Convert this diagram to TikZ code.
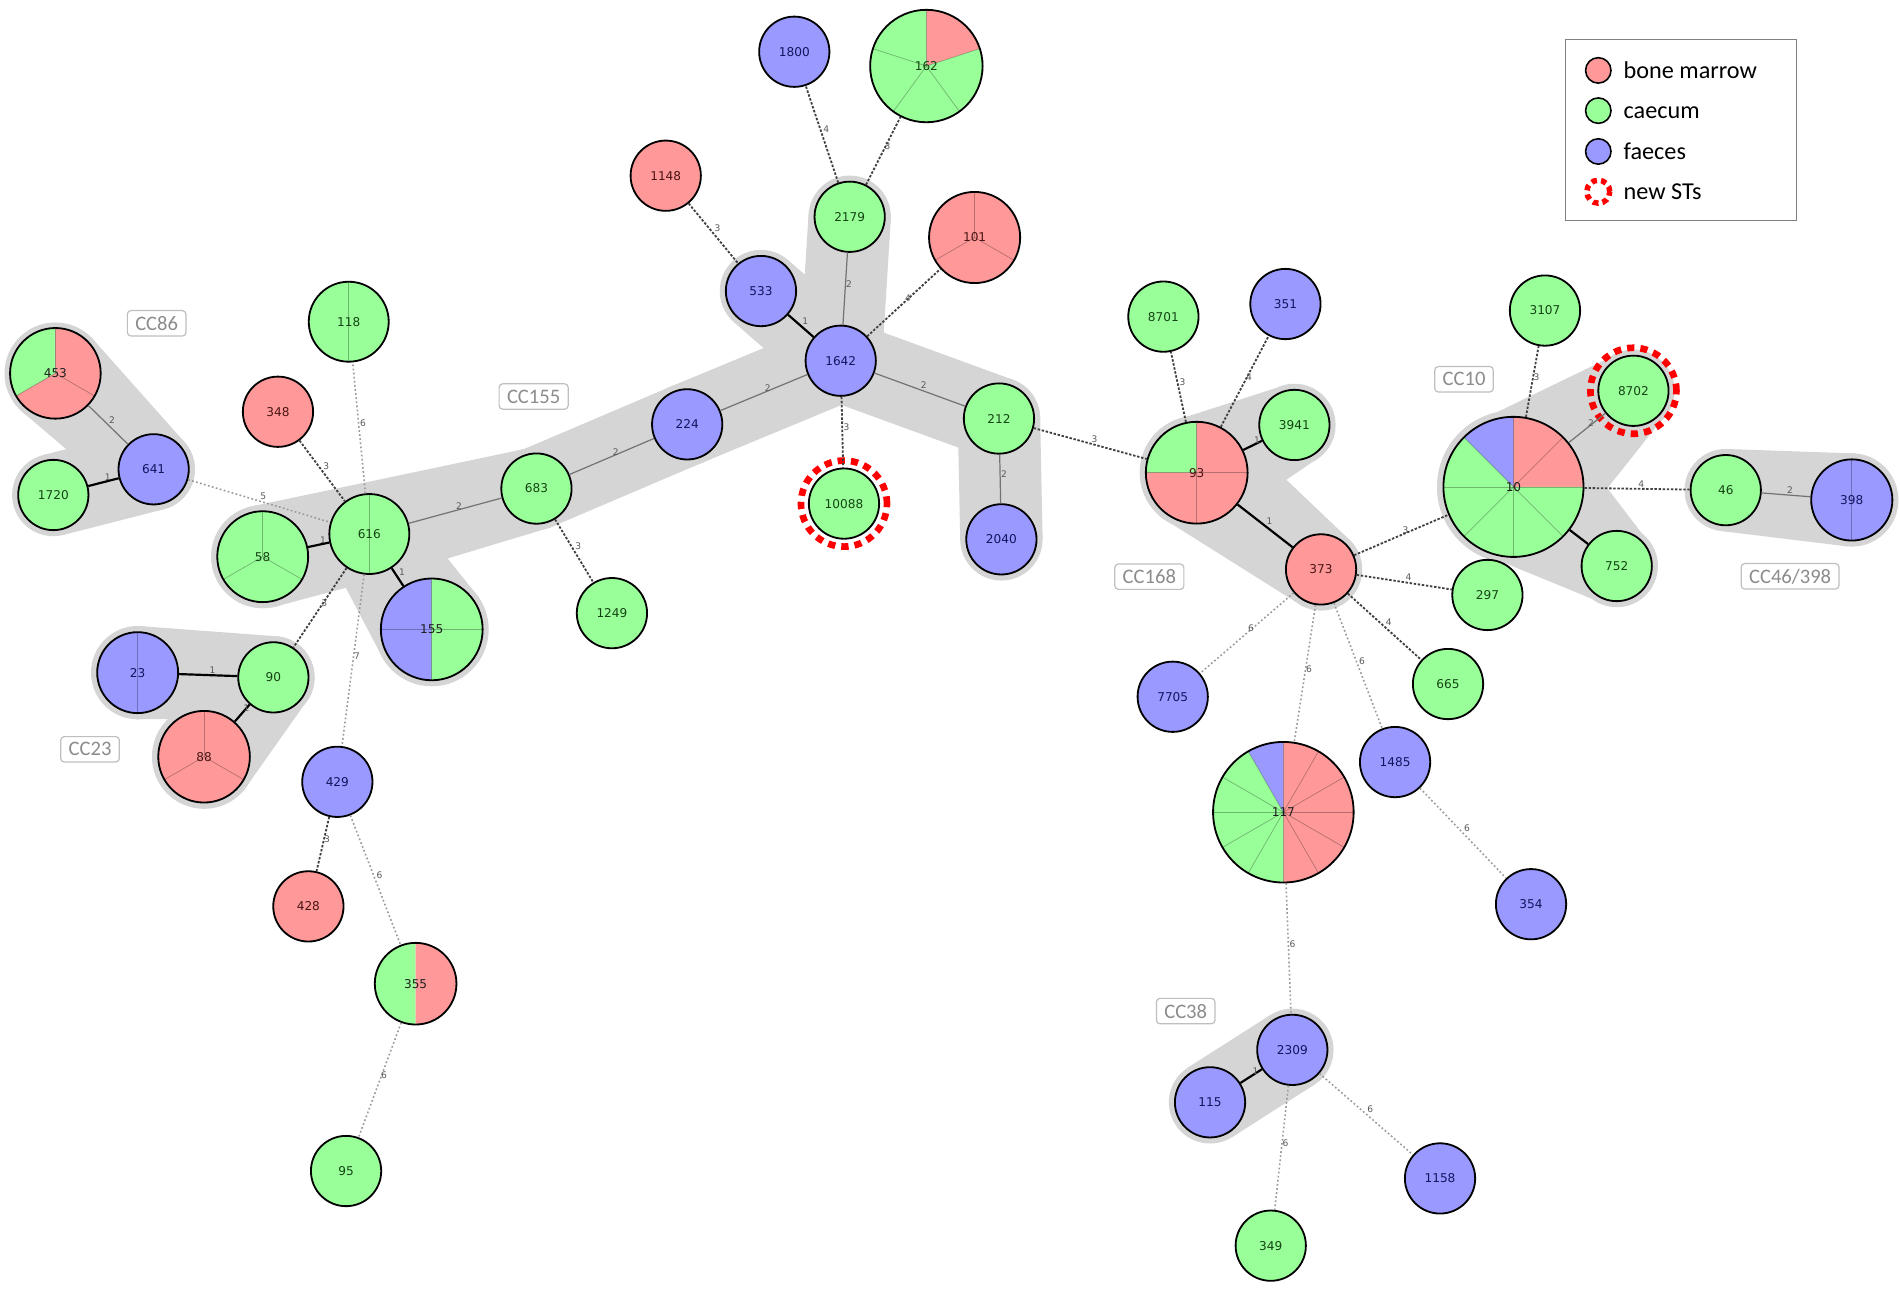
\documentclass[tikz,border=0pt]{standalone}
\usepackage{fontspec}
\newfontfamily\dv{DejaVu Sans}
\newfontfamily\cb{Carlito}
\usetikzlibrary{calc}
\pgfdeclarelayer{bg}
\pgfsetlayers{bg,main}
\definecolor{bm}{HTML}{FF9999}
\definecolor{cae}{HTML}{99FF99}
\definecolor{fae}{HTML}{9999FF}
\definecolor{tbm}{HTML}{4A1414}
\definecolor{tcae}{HTML}{144414}
\definecolor{tfae}{HTML}{141460}
\definecolor{tmix}{HTML}{1E1E1E}
\definecolor{hullgray}{HTML}{D5D5D5}
\definecolor{ccgray}{HTML}{8C8C8C}
\newcommand\band[4]{%
  \fill[hull] ($(#1.center)!#2!90:(#3.center)$) -- ($(#3.center)!#4!-90:(#1.center)$) -- ($(#3.center)!#4!90:(#1.center)$) -- ($(#1.center)!#2!-90:(#3.center)$) -- cycle;
  \fill[hull] (#1.center) circle[radius=#2];
  \fill[hull] (#3.center) circle[radius=#4];}
\newcommand\pieslices[4]{\foreach \sa/\sb/\sc in {#4}{\fill[fill=\sc] (#1,#2) -- +(\sa:#3) arc[start angle=\sa, end angle=\sb, radius=#3] -- cycle;}}
\newcommand\pielines[4]{\foreach \sa in {#4}{\draw[divline] (#1,#2) -- +(\sa:#3);}}
\newcommand\stn[5]{\node[st, fill=#4, text=t#4, minimum size=#5] (n#1) at (#2,#3) {#1};}
\newcommand\pnode[5]{\node[st, text=#4, minimum size=#5] (n#1) at (#2,#3) {#1};}
\begin{document}
\begin{tikzpicture}[x=1pt,y=-1pt,
  st/.style={circle, draw=black, line width=1.5pt, inner sep=0pt, font=\dv\fontsize{10}{11}\selectfont},
  divline/.style={draw=black, opacity=0.28, line width=0.6pt},
  hull/.style={fill=hullgray},
  e1/.style={draw=black, line width=1.8pt},
  e2/.style={draw=black!55, line width=1pt},
  e3/.style={draw=black!75, line width=1.5pt, dash pattern=on 2pt off 1.4pt},
  e5/.style={draw=black!40, line width=1.3pt, dash pattern=on 1.4pt off 2pt},
  el/.style={midway, anchor=south west, inner sep=0.3pt, font=\dv\fontsize{7.5}{8}\selectfont, text=black!65},
  newst/.style={draw=red, line width=5.5pt, dash pattern=on 6pt off 5pt},
  cc/.style={draw=black!25, line width=1pt, rounded corners=3pt, text=ccgray, font=\cb\fontsize{17}{17}\selectfont, inner xsep=6.5pt, inner ysep=0pt, minimum height=21pt},
  leg/.style={anchor=base west, inner sep=0pt, font=\cb\fontsize{20}{20}\selectfont}
]
\useasboundingbox (0,0) rectangle (1568,1070);
\begin{pgfonlayer}{bg}
\fill[white] (0,0) rectangle (1568,1070);
\end{pgfonlayer}

% ---------- pie slices ----------
\pieslices{45.7}{308.1}{37.4pt}{90/210/cae,210/450/bm}
\pielines{45.7}{308.1}{37.4pt}{90,210,330}
\pieslices{216.8}{459.4}{37.5pt}{0/360/cae}
\pielines{216.8}{459.4}{37.5pt}{90,210,330}
\pieslices{168.4}{624.5}{37.8pt}{0/360/bm}
\pielines{168.4}{624.5}{37.8pt}{90,210,330}
\pieslices{804.3}{196}{37.6pt}{0/360/bm}
\pielines{804.3}{196}{37.6pt}{90,210,330}
\pieslices{764.5}{54.5}{46.4pt}{18/90/bm,90/378/cae}
\pielines{764.5}{54.5}{46.4pt}{18,90,162,234,306}
\pieslices{287.8}{265.5}{33pt}{0/360/cae}
\pielines{287.8}{265.5}{33pt}{90,270}
\pieslices{304.8}{440.7}{33pt}{0/360/cae}
\pielines{304.8}{440.7}{33pt}{90,270}
\pieslices{356.3}{519.4}{42pt}{90/270/fae,270/450/cae}
\pielines{356.3}{519.4}{42pt}{0,90,180,270}
\pieslices{113.6}{555.1}{33.4pt}{0/360/fae}
\pielines{113.6}{555.1}{33.4pt}{90,270}
\pieslices{343}{811.8}{33.7pt}{90/270/cae,270/450/bm}
\pieslices{1528.2}{412.6}{33.5pt}{0/360/fae}
\pielines{1528.2}{412.6}{33.5pt}{90,270}
\pieslices{987.6}{390.1}{42pt}{90/180/cae,180/450/bm}
\pielines{987.6}{390.1}{42pt}{0,90,180,270}
\pieslices{1249}{401.8}{57.8pt}{0/90/bm,90/135/fae,135/360/cae}
\pielines{1249}{401.8}{57.8pt}{0,45,...,315}
\pieslices{1059.1}{670.3}{58pt}{-90/90/bm,90/120/fae,120/270/cae}
\pielines{1059.1}{670.3}{58pt}{0,30,...,330}

% ---------- nodes ----------
\pnode{453}{45.7}{308.1}{tmix}{74.8pt}
\pnode{58}{216.8}{459.4}{tcae}{75pt}
\pnode{88}{168.4}{624.5}{tbm}{75.6pt}
\pnode{101}{804.3}{196}{tbm}{75.2pt}
\pnode{162}{764.5}{54.5}{tcae}{92.8pt}
\pnode{118}{287.8}{265.5}{tcae}{66pt}
\pnode{616}{304.8}{440.7}{tcae}{66pt}
\pnode{155}{356.3}{519.4}{tmix}{84pt}
\pnode{23}{113.6}{555.1}{tfae}{66.8pt}
\pnode{355}{343}{811.8}{tmix}{67.4pt}
\pnode{398}{1528.2}{412.6}{tfae}{67pt}
\pnode{93}{987.6}{390.1}{tbm}{84pt}
\pnode{10}{1249}{401.8}{tmix}{115.6pt}
\pnode{117}{1059.1}{670.3}{tmix}{116pt}

\stn{1800}{655.5}{42.7}{fae}{58pt}
\stn{1148}{549.4}{145}{bm}{58pt}
\stn{2179}{701.2}{178.9}{cae}{58pt}
\stn{533}{628}{240.2}{fae}{58pt}
\stn{1642}{693.8}{297.7}{fae}{58pt}
\stn{224}{567.1}{350.2}{fae}{58pt}
\stn{683}{442.7}{403.2}{cae}{58pt}
\stn{212}{824.4}{345.4}{cae}{58pt}
\stn{10088}{696.5}{415.6}{cae}{58pt}
\stn{2040}{826.4}{445.1}{fae}{58pt}
\stn{1249}{505}{506}{cae}{58pt}
\stn{348}{229.4}{339.8}{bm}{58pt}
\stn{641}{126.8}{387.3}{fae}{58pt}
\stn{1720}{44}{408.5}{cae}{58pt}
\stn{90}{225.6}{559}{cae}{58pt}
\stn{429}{278.4}{645.2}{fae}{58pt}
\stn{428}{254.5}{748}{bm}{58pt}
\stn{95}{285.6}{966.4}{cae}{58pt}
\stn{8701}{960.1}{261.3}{cae}{58pt}
\stn{351}{1060.8}{250.9}{fae}{58pt}
\stn{3941}{1068.2}{350.7}{cae}{58pt}
\stn{373}{1090.2}{469.9}{bm}{58pt}
\stn{3107}{1275}{256.3}{cae}{58pt}
\stn{8702}{1348}{322.5}{cae}{58pt}
\stn{46}{1424.2}{404.5}{cae}{58pt}
\stn{752}{1334.2}{467.1}{cae}{58pt}
\stn{297}{1227.5}{491}{cae}{58pt}
\stn{665}{1195}{564.5}{cae}{58pt}
\stn{7705}{967.8}{575}{fae}{58pt}
\stn{1485}{1151.3}{628.9}{fae}{58pt}
\stn{354}{1263.5}{746.2}{fae}{58pt}
\stn{2309}{1066.5}{866.4}{fae}{58pt}
\stn{115}{998.6}{909.7}{fae}{58pt}
\stn{1158}{1188.4}{972.5}{fae}{58pt}
\stn{349}{1048.7}{1028}{cae}{58pt}

\draw[newst] (n10088.center) circle[radius=35.5pt];
\draw[newst] (n8702.center) circle[radius=35.5pt];

% ---------- clonal complex hulls ----------
\begin{pgfonlayer}{bg}
\band{n453}{42pt}{n641}{34pt}
\band{n641}{34pt}{n1720}{34pt}
\band{n23}{38.5pt}{n90}{34pt}
\band{n90}{34pt}{n88}{43pt}
\band{n58}{42.5pt}{n616}{38pt}
\band{n616}{38pt}{n155}{47pt}
\band{n616}{38pt}{n683}{34pt}
\band{n58}{42.5pt}{n683}{34pt}
\band{n683}{34pt}{n224}{34pt}
\band{n224}{34pt}{n1642}{34pt}
\band{n1642}{34pt}{n533}{34pt}
\band{n1642}{34pt}{n2179}{34pt}
\band{n1642}{34pt}{n212}{34pt}
\band{n212}{34pt}{n2040}{34pt}
\band{n93}{47pt}{n3941}{34pt}
\band{n93}{47pt}{n373}{34pt}
\band{n10}{63pt}{n8702}{34pt}
\band{n10}{63pt}{n752}{34pt}
\band{n46}{34pt}{n398}{38.5pt}
\band{n2309}{34pt}{n115}{34pt}
\end{pgfonlayer}

% ---------- edges ----------
\draw[e1] (n533) -- node[el]{1} (n1642);
\draw[e1] (n1720) -- node[el]{1} (n641);
\draw[e1] (n58) -- node[el]{1} (n616);
\draw[e1] (n616) -- node[el]{1} (n155);
\draw[e1] (n23) -- node[el]{1} (n90);
\draw[e1] (n90) -- node[el]{1} (n88);
\draw[e1] (n93) -- node[el]{1} (n3941);
\draw[e1] (n93) -- node[el]{1} (n373);
\draw[e1] (n10) -- (n752);
\draw[e1] (n2309) -- node[el]{1} (n115);

\draw[e2] (n453) -- node[el]{2} (n641);
\draw[e2] (n616) -- node[el]{2} (n683);
\draw[e2] (n683) -- node[el]{2} (n224);
\draw[e2] (n224) -- node[el]{2} (n1642);
\draw[e2] (n1642) -- node[el]{2} (n2179);
\draw[e2] (n1642) -- node[el]{2} (n212);
\draw[e2] (n212) -- node[el]{2} (n2040);
\draw[e2] (n10) -- node[el]{2} (n8702);
\draw[e2] (n46) -- node[el]{2} (n398);

\draw[e3] (n348) -- node[el]{3} (n616);
\draw[e3] (n616) -- node[el]{3} (n90);
\draw[e3] (n683) -- node[el]{3} (n1249);
\draw[e3] (n1148) -- node[el]{3} (n533);
\draw[e3] (n2179) -- node[el]{4} (n1800);
\draw[e3] (n2179) -- node[el]{3} (n162);
\draw[e3] (n1642) -- node[el]{4} (n101);
\draw[e3] (n1642) -- node[el]{3} (n10088);
\draw[e3] (n212) -- node[el]{3} (n93);
\draw[e3] (n93) -- node[el]{3} (n8701);
\draw[e3] (n93) -- node[el]{4} (n351);
\draw[e3] (n373) -- node[el]{3} (n10);
\draw[e3] (n373) -- node[el]{4} (n297);
\draw[e3] (n373) -- node[el]{4} (n665);
\draw[e3] (n10) -- node[el]{3} (n3107);
\draw[e3] (n10) -- node[el]{4} (n46);
\draw[e3] (n429) -- node[el]{3} (n428);

\draw[e5] (n641) -- node[el]{5} (n616);
\draw[e5] (n616) -- node[el]{6} (n118);
\draw[e5] (n616) -- node[el]{7} (n429);
\draw[e5] (n429) -- node[el]{6} (n355);
\draw[e5] (n355) -- node[el]{6} (n95);
\draw[e5] (n373) -- node[el]{6} (n7705);
\draw[e5] (n373) -- node[el]{6} (n117);
\draw[e5] (n373) -- node[el]{6} (n1485);
\draw[e5] (n1485) -- node[el]{6} (n354);
\draw[e5] (n117) -- node[el]{6} (n2309);
\draw[e5] (n2309) -- node[el]{6} (n349);
\draw[e5] (n2309) -- node[el]{6} (n1158);

% ---------- CC labels ----------
\node[cc] (cc86) at (129.3,266.8) {CC86};
\node[cc] (cc155) at (440.4,327.2) {CC155};
\node[cc] (cc23) at (74.3,618.4) {CC23};
\node[cc] (cc168) at (948.5,475.9) {CC168};
\node[cc] (cc10) at (1208.2,313) {CC10};
\node[cc] (cc46) at (1477.3,475.6) {CC46/398};
\node[cc] (cc38) at (978.5,834.4) {CC38};

% ---------- legend ----------
\node[draw=black!50, line width=1pt, minimum width=190.6pt, minimum height=149.1pt, inner sep=0pt] (legend) at (1387.5,107.15) {};
\node[circle, draw=black, line width=1.3pt, fill=bm, minimum size=21pt, inner sep=0pt] (lg1) at (1319,58.1) {};
\node[circle, draw=black, line width=1.3pt, fill=cae, minimum size=21pt, inner sep=0pt] (lg2) at (1319,91.3) {};
\node[circle, draw=black, line width=1.3pt, fill=fae, minimum size=21pt, inner sep=0pt] (lg3) at (1319,125) {};
\node[circle, draw=red, line width=4.5pt, dash pattern=on 4.5pt off 3.5pt, minimum size=19pt, inner sep=0pt] (lg4) at (1319,158.2) {};
\node[leg] (lt1) at (1339.7,64.6) {bone marrow};
\node[leg] (lt2) at (1339.7,97.8) {caecum};
\node[leg] (lt3) at (1339.7,131.5) {faeces};
\node[leg] (lt4) at (1339.7,164.7) {new STs};
\end{tikzpicture}
\end{document}
